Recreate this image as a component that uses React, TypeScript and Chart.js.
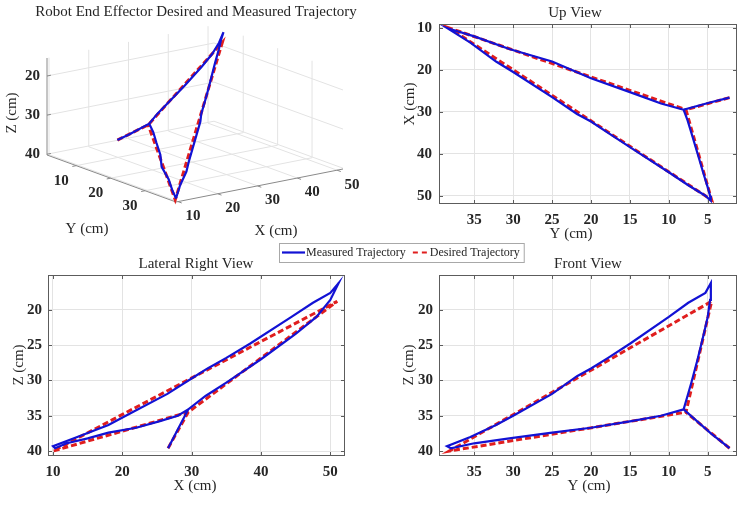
import React, { useEffect, useRef } from "react";
import { Chart, registerables } from "chart.js";

Chart.register(...registerables);

// ---------------- data (cm) ----------------
// Measured end-effector trajectory: start -> corner A -> top corner -> far corner -> corner A
const measuredX = [26.6, 27.7, 29.5, 32.0, 35.0, 40.0, 45.0, 48.0, 50.0, 51.2, 50.0, 47.5, 44.4, 38.4, 35.0, 32.3, 30.5, 26.5, 20.5, 18.0, 13.5, 10.0, 10.3, 12.0, 15.0, 18.0, 22.0, 25.3, 28.0, 29.5];
const measuredY = [2.2, 4.6, 8.1, 7.6, 7.1, 6.3, 5.5, 5.0, 4.7, 4.6, 5.3, 7.5, 10.0, 15.0, 17.8, 20.0, 21.8, 25.0, 30.0, 32.2, 35.5, 38.5, 38.0, 35.0, 30.5, 25.0, 20.0, 15.0, 11.0, 8.1];
const measuredZ = [39.6, 37.5, 34.1, 32.2, 30.3, 27.0, 23.4, 21.0, 18.6, 16.2, 17.6, 19.0, 21.0, 24.8, 26.8, 28.3, 29.4, 31.9, 35.0, 36.3, 38.0, 39.3, 39.6, 38.9, 38.2, 37.4, 36.7, 35.8, 35.0, 34.1];

// Desired trajectory (straight segments between way-points)
const desiredX = [26.6, 29.5, 51.0, 10.0, 29.5];
const desiredY = [2.2, 7.8, 4.5, 38.2, 7.8];
const desiredZ = [39.6, 34.5, 18.8, 40.0, 34.5];

const seriesLabels = ["Measured Trajectory", "Desired Trajectory"];

// tick labels
const ticks3dX = [10, 20, 30, 40, 50];
const ticks3dY = [10, 20, 30];
const ticks3dZ = [20, 30, 40];
const ticksYcm = [5, 10, 15, 20, 25, 30, 35];
const ticksXcmUp = [10, 20, 30, 40, 50];
const ticksXcmLat = [10, 20, 30, 40, 50];
const ticksZcm = [20, 25, 30, 35, 40];

// ---------------- style ----------------
const SERIF = '"Liberation Serif", "DejaVu Serif", "Times New Roman", serif';
const BLUE = "#1212d4";
const RED = "#e01e1e";
const GRID = "#e3e3e3";
const AXIS = "#5c5c5c";
const TEXT = "#262626";
const TICK_FONT = `bold 15px ${SERIF}`;
const LABEL_FONT = `15px ${SERIF}`;
const TITLE_FONT = `15px ${SERIF}`;
const BLUE_W = 2.2;
const RED_W = 3.0;
const RED_DASH = [6, 3];

type Coord = "X" | "Y" | "Z";
type Pt = { x: number; y: number };
const measured: Record<Coord, number[]> = { X: measuredX, Y: measuredY, Z: measuredZ };
const desired: Record<Coord, number[]> = { X: desiredX, Y: desiredY, Z: desiredZ };

function pairs(s: Record<Coord, number[]>, h: Coord, v: Coord): Pt[] {
  return s[h].map((_, i) => ({ x: s[h][i], y: s[v][i] }));
}

function drawText(
  ctx: CanvasRenderingContext2D,
  s: string,
  x: number,
  y: number,
  font: string,
  align: CanvasTextAlign = "center",
  rot = 0
) {
  ctx.save();
  ctx.font = font;
  ctx.fillStyle = TEXT;
  ctx.textAlign = align;
  ctx.textBaseline = "middle";
  ctx.translate(x, y);
  if (rot) ctx.rotate(rot);
  ctx.fillText(s, 0, 0);
  ctx.restore();
}

// ---------------- 2D views ----------------
interface ViewCfg {
  left: number;
  top: number;
  width: number;
  height: number;
  area: [number, number, number, number];
  h: Coord;
  v: Coord;
  xMin: number;
  xMax: number;
  xRev: boolean;
  yMin: number;
  yMax: number;
  yRev: boolean;
  xTicks: number[];
  yTicks: number[];
  title: string;
  titleAt: [number, number];
  xLabel: string;
  xLabelAt: [number, number];
  yLabel: string;
  yLabelAt: [number, number];
  yTickGap: number;
}

const UP: ViewCfg = {
  left: 372, top: 0, width: 373, height: 250,
  area: [439, 24, 737, 204],
  h: "Y", v: "X",
  xMin: 1.24, xMax: 39.53, xRev: true,
  yMin: 9.05, yMax: 51.98, yRev: true,
  xTicks: ticksYcm, yTicks: ticksXcmUp,
  title: "Up View", titleAt: [575, 13],
  xLabel: "Y (cm)", xLabelAt: [571, 234],
  yLabel: "X (cm)", yLabelAt: [410, 104],
  yTickGap: 7,
};

const LATERAL: ViewCfg = {
  left: 0, top: 250, width: 372, height: 256,
  area: [48, 275, 345, 456],
  h: "X", v: "Z",
  xMin: 9.28, xMax: 52.12, xRev: false,
  yMin: 15.07, yMax: 40.7, yRev: true,
  xTicks: ticksXcmLat, yTicks: ticksZcm,
  title: "Lateral Right View", titleAt: [196, 264],
  xLabel: "X (cm)", xLabelAt: [195, 486],
  yLabel: "Z (cm)", yLabelAt: [19, 365],
  yTickGap: 6,
};

const FRONT: ViewCfg = {
  left: 372, top: 250, width: 373, height: 256,
  area: [439, 275, 737, 456],
  h: "Y", v: "Z",
  xMin: 1.24, xMax: 39.53, xRev: true,
  yMin: 15.07, yMax: 40.7, yRev: true,
  xTicks: ticksYcm, yTicks: ticksZcm,
  title: "Front View", titleAt: [588, 264],
  xLabel: "Y (cm)", xLabelAt: [589, 486],
  yLabel: "Z (cm)", yLabelAt: [409, 365],
  yTickGap: 6,
};

function make2D(canvas: HTMLCanvasElement, cfg: ViewCfg): Chart {
  const [aL, aT, aR, aB] = cfg.area;
  const yW = aL - cfg.left;
  const xH = cfg.top + cfg.height - aB;
  const padTop = aT - cfg.top;
  const padRight = cfg.left + cfg.width - aR;
  const tickFont = { family: SERIF, size: 15, weight: "bold" as const };

  const framePlugin = {
    id: "matlabFrame",
    afterDatasetsDraw(chart: any) {
      const { ctx, chartArea: a } = chart;
      const sx = chart.scales.x;
      const sy = chart.scales.y;
      ctx.save();
      ctx.strokeStyle = AXIS;
      ctx.lineWidth = 1;
      ctx.strokeRect(
        Math.round(a.left) + 0.5,
        Math.round(a.top) + 0.5,
        Math.round(a.right - a.left) - 1,
        Math.round(a.bottom - a.top) - 1
      );
      ctx.beginPath();
      for (const t of cfg.xTicks) {
        const p = Math.round(sx.getPixelForValue(t)) + 0.5;
        ctx.moveTo(p, a.bottom);
        ctx.lineTo(p, a.bottom - 4);
        ctx.moveTo(p, a.top);
        ctx.lineTo(p, a.top + 4);
      }
      for (const t of cfg.yTicks) {
        const p = Math.round(sy.getPixelForValue(t)) + 0.5;
        ctx.moveTo(a.left, p);
        ctx.lineTo(a.left + 4, p);
        ctx.moveTo(a.right, p);
        ctx.lineTo(a.right - 4, p);
      }
      ctx.stroke();
      ctx.restore();
    },
    afterDraw(chart: any) {
      const ctx = chart.ctx;
      drawText(ctx, cfg.title, cfg.titleAt[0] - cfg.left, cfg.titleAt[1] - cfg.top, TITLE_FONT);
      drawText(ctx, cfg.xLabel, cfg.xLabelAt[0] - cfg.left, cfg.xLabelAt[1] - cfg.top, LABEL_FONT);
      drawText(ctx, cfg.yLabel, cfg.yLabelAt[0] - cfg.left, cfg.yLabelAt[1] - cfg.top, LABEL_FONT, "center", -Math.PI / 2);
    },
  };

  return new Chart(canvas, {
    type: "scatter",
    data: {
      datasets: [
        {
          label: seriesLabels[0],
          data: pairs(measured, cfg.h, cfg.v),
          showLine: true,
          borderColor: BLUE,
          backgroundColor: BLUE,
          borderWidth: BLUE_W,
          pointRadius: 0,
          pointHoverRadius: 0,
        },
        {
          label: seriesLabels[1],
          data: pairs(desired, cfg.h, cfg.v),
          showLine: true,
          borderColor: RED,
          backgroundColor: RED,
          borderWidth: RED_W,
          borderDash: RED_DASH,
          pointRadius: 0,
          pointHoverRadius: 0,
        },
      ],
    },
    options: {
      animation: false,
      responsive: false,
      events: [],
      layout: { padding: { top: padTop, right: padRight, bottom: 0, left: 0 } },
      plugins: { legend: { display: false }, tooltip: { enabled: false }, title: { display: false } },
      scales: {
        x: {
          type: "linear",
          position: "bottom",
          min: cfg.xMin,
          max: cfg.xMax,
          reverse: cfg.xRev,
          afterBuildTicks: (s: any) => {
            s.ticks = cfg.xTicks.map((v) => ({ value: v }));
          },
          afterFit: (s: any) => {
            s.height = xH;
          },
          ticks: {
            font: tickFont,
            color: TEXT,
            padding: 7,
            maxRotation: 0,
            autoSkip: false,
            callback: (v: any) => String(v),
          },
          grid: { color: GRID, drawTicks: false, lineWidth: 1 },
          border: { display: false },
        },
        y: {
          type: "linear",
          position: "left",
          min: cfg.yMin,
          max: cfg.yMax,
          reverse: cfg.yRev,
          afterBuildTicks: (s: any) => {
            s.ticks = cfg.yTicks.map((v) => ({ value: v }));
          },
          afterFit: (s: any) => {
            s.width = yW;
          },
          ticks: {
            font: tickFont,
            color: TEXT,
            padding: cfg.yTickGap,
            autoSkip: false,
            callback: (v: any) => String(v),
          },
          grid: { color: GRID, drawTicks: false, lineWidth: 1 },
          border: { display: false },
        },
      },
    },
    plugins: [framePlugin],
  } as any);
}

// ---------------- 3D view ----------------
const BOX3 = { xMin: 9.5, xMax: 51.5, yMin: 1.5, yMax: 39, zMin: 15.4, zMax: 40.2 };
// screen geometry of the 3D box (page px): front-bottom corner and edge vectors
const F3 = [176, 202];
const EX3 = [167, -33];
const EY3 = [129, 47];
const EZ3 = [0, 97];

function proj(x: number, y: number, z: number): Pt {
  const nx = (x - BOX3.xMin) / (BOX3.xMax - BOX3.xMin);
  const ny = (y - BOX3.yMin) / (BOX3.yMax - BOX3.yMin);
  const nz = (z - BOX3.zMin) / (BOX3.zMax - BOX3.zMin);
  return {
    x: F3[0] + nx * EX3[0] + (ny - 1) * EY3[0] + (nz - 1) * EZ3[0],
    y: F3[1] + nx * EX3[1] + (ny - 1) * EY3[1] + (nz - 1) * EZ3[1],
  };
}

function proj3(s: Record<Coord, number[]>): Pt[] {
  return s.X.map((_, i) => proj(s.X[i], s.Y[i], s.Z[i]));
}

function make3D(canvas: HTMLCanvasElement): Chart {
  const W = 745;
  const H = 506;
  const plugin = {
    id: "box3d",
    beforeDatasetsDraw(chart: any) {
      const ctx: CanvasRenderingContext2D = chart.ctx;
      const sx = chart.scales.x;
      const sy = chart.scales.y;
      const P = (x: number, y: number, z: number) => {
        const p = proj(x, y, z);
        return [sx.getPixelForValue(p.x), sy.getPixelForValue(p.y)];
      };
      const seg = (a: number[], b: number[]) => {
        ctx.moveTo(a[0], a[1]);
        ctx.lineTo(b[0], b[1]);
      };
      const { xMin, xMax, yMin, yMax, zMin, zMax } = BOX3;
      ctx.save();
      ctx.strokeStyle = GRID;
      ctx.lineWidth = 1;
      ctx.beginPath();
      for (const t of ticks3dX) {
        seg(P(t, yMin, zMax), P(t, yMax, zMax));
        seg(P(t, yMin, zMin), P(t, yMin, zMax));
      }
      for (const t of ticks3dY) {
        seg(P(xMin, t, zMax), P(xMax, t, zMax));
        seg(P(xMax, t, zMin), P(xMax, t, zMax));
      }
      for (const t of ticks3dZ) {
        seg(P(xMin, yMin, t), P(xMax, yMin, t));
        seg(P(xMax, yMin, t), P(xMax, yMax, t));
      }
      ctx.stroke();
      // axis lines
      ctx.strokeStyle = "#8a8a8a";
      ctx.beginPath();
      seg(P(xMin, yMin, zMin), P(xMin, yMin, zMax));
      seg(P(xMin, yMin, zMax), P(xMin, yMax, zMax));
      seg(P(xMin, yMax, zMax), P(xMax, yMax, zMax));
      // small tick marks
      const ux = [EX3[0] / Math.hypot(EX3[0], EX3[1]), EX3[1] / Math.hypot(EX3[0], EX3[1])];
      const uy = [EY3[0] / Math.hypot(EY3[0], EY3[1]), EY3[1] / Math.hypot(EY3[0], EY3[1])];
      for (const t of ticks3dZ) {
        const a = P(xMin, yMin, t);
        seg(a, [a[0] + ux[0] * 4, a[1] + ux[1] * 4]);
      }
      for (const t of ticks3dY) {
        const a = P(xMin, t, zMax);
        seg(a, [a[0] - ux[0] * 4, a[1] - ux[1] * 4]);
      }
      for (const t of ticks3dX) {
        const a = P(t, yMax, zMax);
        seg(a, [a[0] + uy[0] * 4, a[1] + uy[1] * 4]);
      }
      ctx.stroke();
      ctx.restore();

      // tick labels
      for (const t of ticks3dZ) {
        const a = P(xMin, yMin, t);
        drawText(ctx, String(t), a[0] - 7, a[1], TICK_FONT, "right");
      }
      for (const t of ticks3dY) {
        const a = P(xMin, t, zMax);
        drawText(ctx, String(t), a[0] - 15, a[1] + 15, TICK_FONT);
      }
      for (const t of ticks3dX) {
        const a = P(t, yMax, zMax);
        drawText(ctx, String(t), a[0] + 15, a[1] + 14.5, TICK_FONT);
      }
      // axis titles + title
      drawText(ctx, "Z (cm)", 12, 113, LABEL_FONT, "center", -Math.PI / 2);
      drawText(ctx, "Y (cm)", 87, 229, LABEL_FONT);
      drawText(ctx, "X (cm)", 276, 231, LABEL_FONT);
      drawText(ctx, "Robot End Effector Desired and Measured Trajectory", 196, 12, TITLE_FONT);
    },
    afterDraw(chart: any) {
      // shared legend
      const ctx: CanvasRenderingContext2D = chart.ctx;
      const ds = chart.data.datasets;
      ctx.save();
      ctx.font = `12px ${SERIF}`;
      const w0 = ctx.measureText(ds[0].label).width;
      const w1 = ctx.measureText(ds[1].label).width;
      const left = 279;
      const top = 243;
      const h = 19;
      const cy = top + h / 2;
      const s0 = left + 3;
      const t0 = s0 + 24;
      const s1 = t0 + w0 + 3;
      const t1 = s1 + 21;
      const right = t1 + w1 + 4;
      ctx.fillStyle = "#ffffff";
      ctx.fillRect(left, top, right - left, h);
      ctx.strokeStyle = "#a8a8a8";
      ctx.lineWidth = 1;
      ctx.strokeRect(left + 0.5, top + 0.5, right - left, h);
      ctx.lineWidth = 2.2;
      ctx.strokeStyle = ds[0].borderColor;
      ctx.beginPath();
      ctx.moveTo(s0, cy);
      ctx.lineTo(s0 + 23, cy);
      ctx.stroke();
      ctx.strokeStyle = ds[1].borderColor;
      ctx.setLineDash([5, 4]);
      ctx.lineDashOffset = 5;
      ctx.beginPath();
      ctx.moveTo(s1, cy);
      ctx.lineTo(s1 + 19, cy);
      ctx.stroke();
      ctx.setLineDash([]);
      ctx.fillStyle = TEXT;
      ctx.textAlign = "left";
      ctx.textBaseline = "middle";
      ctx.fillText(ds[0].label, t0, cy + 0.5);
      ctx.fillText(ds[1].label, t1, cy + 0.5);
      ctx.restore();
    },
  };

  return new Chart(canvas, {
    type: "scatter",
    data: {
      datasets: [
        {
          label: seriesLabels[0],
          data: proj3(measured),
          showLine: true,
          borderColor: BLUE,
          backgroundColor: BLUE,
          borderWidth: BLUE_W,
          pointRadius: 0,
          pointHoverRadius: 0,
        },
        {
          label: seriesLabels[1],
          data: proj3(desired),
          showLine: true,
          borderColor: RED,
          backgroundColor: RED,
          borderWidth: RED_W,
          borderDash: RED_DASH,
          pointRadius: 0,
          pointHoverRadius: 0,
        },
      ],
    },
    options: {
      animation: false,
      responsive: false,
      events: [],
      layout: { padding: 0 },
      plugins: { legend: { display: false }, tooltip: { enabled: false }, title: { display: false } },
      scales: {
        x: { type: "linear", min: 0, max: W, display: false },
        y: { type: "linear", min: 0, max: H, reverse: true, display: false },
      },
    },
    plugins: [plugin],
  } as any);
}

// ---------------- component ----------------
export default function App() {
  const ref3d = useRef<HTMLCanvasElement>(null);
  const refUp = useRef<HTMLCanvasElement>(null);
  const refLat = useRef<HTMLCanvasElement>(null);
  const refFront = useRef<HTMLCanvasElement>(null);

  useEffect(() => {
    const charts: Chart[] = [];
    if (ref3d.current) charts.push(make3D(ref3d.current));
    if (refUp.current) charts.push(make2D(refUp.current, UP));
    if (refLat.current) charts.push(make2D(refLat.current, LATERAL));
    if (refFront.current) charts.push(make2D(refFront.current, FRONT));
    return () => charts.forEach((c) => c.destroy());
  }, []);

  const pos = (c: { left: number; top: number; width: number; height: number }) => ({
    position: "absolute" as const,
    left: c.left,
    top: c.top,
    width: c.width,
    height: c.height,
  });

  return (
    <div style={{ position: "fixed", left: 0, top: 0, width: 745, height: 506, background: "#ffffff", overflow: "hidden" }}>
      <canvas ref={ref3d} width={745} height={506} style={pos({ left: 0, top: 0, width: 745, height: 506 })} />
      <canvas ref={refUp} width={UP.width} height={UP.height} style={pos(UP)} />
      <canvas ref={refLat} width={LATERAL.width} height={LATERAL.height} style={pos(LATERAL)} />
      <canvas ref={refFront} width={FRONT.width} height={FRONT.height} style={pos(FRONT)} />
    </div>
  );
}
